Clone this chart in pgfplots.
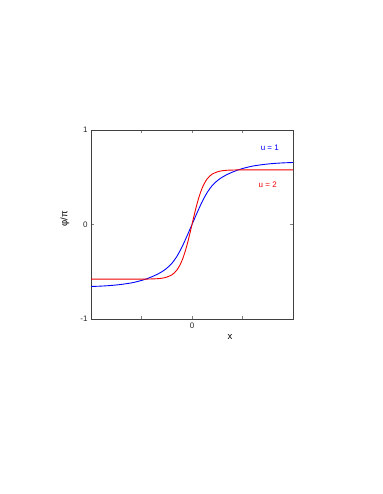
\documentclass[border=0pt]{standalone}
\usepackage{fontspec}
\setmainfont{Liberation Sans}
\usepackage{pgfplots}
\usepackage{pgfplotstable}
\pgfplotsset{compat=1.18}

% blue curve, u = 1 (right half, mirrored below)
\pgfplotstableread{
x y
0.0 0.000
0.1 0.123
0.2 0.240
0.3 0.338
0.4 0.412
0.5 0.463
0.6 0.501
0.7 0.530
0.8 0.554
0.9 0.575
1.0 0.592
1.1 0.606
1.2 0.618
1.4 0.634
1.6 0.645
1.8 0.652
2.0 0.656
}\blueright
% red curve, u = 2
\pgfplotstableread{
x y
0.00 0.000
0.05 0.114
0.10 0.219
0.15 0.310
0.20 0.384
0.25 0.440
0.30 0.482
0.35 0.512
0.40 0.533
0.50 0.557
0.60 0.569
0.70 0.574
0.80 0.576
1.00 0.578
2.00 0.578
}\redright

\begin{document}
\begin{tikzpicture}[x=1pt,y=1pt]
\path (0,0) rectangle (382,494);
\begin{axis}[
    at={(91pt,175pt)}, anchor=south west,
    scale only axis,
    width=202pt, height=189pt,
    xmin=-2, xmax=2, ymin=-1, ymax=1,
    xtick={-1,0,1}, xticklabels={{},0,{}},
    ytick={-1,0,1},
    tick align=inside,
    major tick length=3pt,
    axis line style={black!75, line width=0.6pt},
    tick style={black!50, line width=0.5pt},
    ticklabel style={font=\fontsize{8}{9}\selectfont, text=black!85},
    /pgf/number format/assume math mode=true,
    clip mode=individual,
]
\addplot[blue, line width=0.9pt, smooth] table[x expr=-\thisrow{x}, y expr=-\thisrow{y}] {\blueright};
\addplot[blue, line width=0.9pt, smooth] table {\blueright};
\addplot[red!95!black, line width=0.9pt, smooth] table[x expr=-\thisrow{x}, y expr=-\thisrow{y}] {\redright};
\addplot[red!95!black, line width=0.9pt, smooth] table {\redright};
\node[blue, font=\fontsize{8}{9}\selectfont] at (axis cs:1.54,0.81) {u = 1};
\node[red!95!black, font=\fontsize{8}{9}\selectfont] at (axis cs:1.50,0.42) {u = 2};
\node[font=\fontsize{9.5}{10}\selectfont, rotate=90] at (axis description cs:-0.129,0.53) {φ/π};
\node[font=\fontsize{9.5}{10}\selectfont] at (axis description cs:0.688,-0.095) {x};
\end{axis}
\end{tikzpicture}
\end{document}
